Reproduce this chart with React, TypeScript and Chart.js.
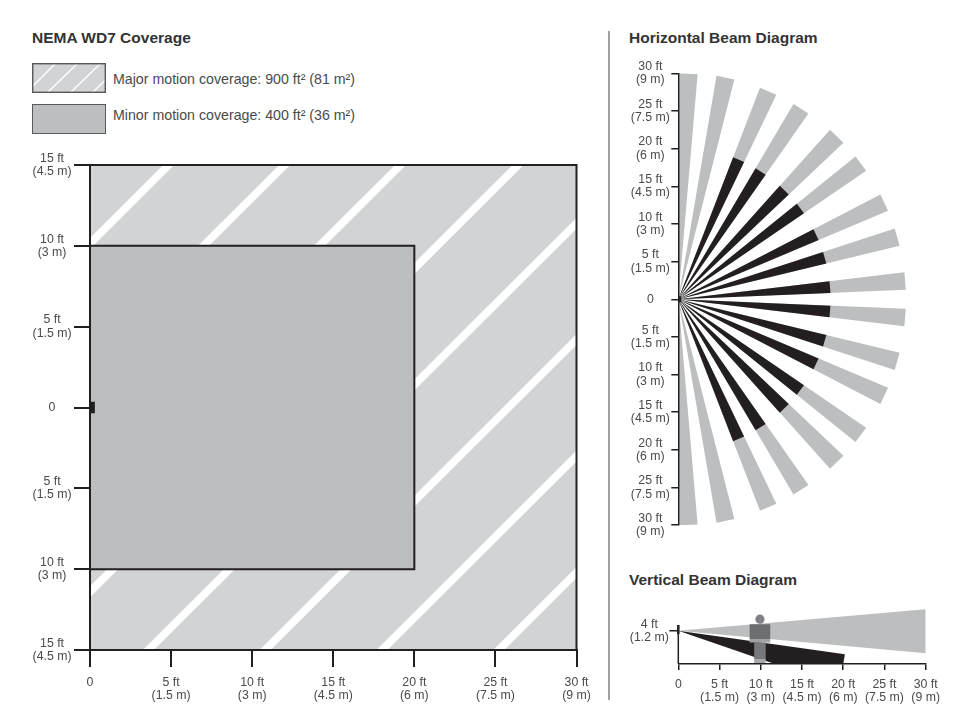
import React, { useEffect, useRef } from "react";
import { Chart, registerables } from "chart.js";

Chart.register(...registerables);

// ---------- data (all in feet, angles in degrees) ----------
const COVERAGE_X_TICKS = [0, 5, 10, 15, 20, 25, 30];
const COVERAGE_X_LABELS = ["0", ["5 ft", "(1.5 m)"], ["10 ft", "(3 m)"], ["15 ft", "(4.5 m)"], ["20 ft", "(6 m)"], ["25 ft", "(7.5 m)"], ["30 ft", "(9 m)"]];
const COVERAGE_Y_TICKS = [15, 10, 5, 0, -5, -10, -15];
const COVERAGE_Y_LABELS = [["15 ft", "(4.5 m)"], ["10 ft", "(3 m)"], ["5 ft", "(1.5 m)"], "0", ["5 ft", "(1.5 m)"], ["10 ft", "(3 m)"], ["15 ft", "(4.5 m)"]];
const MAJOR_AREA = { xMax: 30, yMax: 15 };
const MINOR_AREA = { xMax: 20, yMax: 10 };
const STRIPE_OFFSETS = [10.15, 3.0, -4.15, -11.4, -18.6, -25.8, -33.0, -40.2];
const COVERAGE_SENSOR = { x0: -0.15, x1: 0.3, y: 0.35 };

const BEAM_Y_TICKS = [30, 25, 20, 15, 10, 5, 0, -5, -10, -15, -20, -25, -30];
const BEAM_Y_LABELS = [["30 ft", "(9 m)"], ["25 ft", "(7.5 m)"], ["20 ft", "(6 m)"], ["15 ft", "(4.5 m)"], ["10 ft", "(3 m)"], ["5 ft", "(1.5 m)"], "0", ["5 ft", "(1.5 m)"], ["10 ft", "(3 m)"], ["15 ft", "(4.5 m)"], ["20 ft", "(6 m)"], ["25 ft", "(7.5 m)"], ["30 ft", "(9 m)"]];
const BEAM_NEAR_ANGLES = [2.4, 13.6, 22.9, 34.4, 43.5, 55, 64.4, 75.7, 85.1];
const BEAM_FAR_ANGLES = [6.8, 18.1, 27.4, 38.9, 48.2, 59.5, 68.9, 80.3, 89.7];
const BEAM_MAJOR_RANGE = [30.2, 30.2, 30.2, 30.2, 30.2, 30.1, 30.1, 30.1, 30.0];
const BEAM_MINOR_RANGE = [20.2, 20.2, 20.2, 20.2, 20.2, 20.2, 20.2, 0, 0];

const VERT_X_TICKS = [0, 5, 10, 15, 20, 25, 30];
const VERT_X_LABELS = ["0", ["5 ft", "(1.5 m)"], ["10 ft", "(3 m)"], ["15 ft", "(4.5 m)"], ["20 ft", "(6 m)"], ["25 ft", "(7.5 m)"], ["30 ft", "(9 m)"]];
const VERT_Y_TICKS = [4];
const VERT_Y_LABELS = [["4 ft", "(1.2 m)"]];
const VERT_MAJOR_BEAM_X = [0, 30, 30, 0];
const VERT_MAJOR_BEAM_Y = [4, 6.6, 1.29, 4];
const VERT_MINOR_BEAM_X = [0, 20.2, 20, 11.7, 0];
const VERT_MINOR_BEAM_Y = [4, 1.17, 0, 0, 4];
const PERSON_HEAD = { x: 9.9, y: 5.4 };
const PERSON_TORSO = { x0: 8.65, x1: 11.15, y0: 3.0, y1: 4.8 };
const PERSON_WAIST = { x0: 8.65, x1: 11.15, y0: 2.6, y1: 3.0 };
const PERSON_LEGS = { x0: 9.2, x1: 10.6, y0: 0.6, y1: 2.6 };
const PERSON_FEET = { x0: 9.2, x1: 10.6, y0: 0.0, y1: 0.6 };
const VERT_AXIS_TOP = 4.7;

// ---------- styles ----------
const INK = "#231f20";
const TEXT = "#4a4a4c";
const MAJOR_GREY = "#d1d3d4";
const MINOR_GREY = "#bcbec0";
const FONT = "'Liberation Sans', Arial, sans-serif";
const tickFont = { family: FONT, size: 12.3, lineHeight: 1.08 };

const rect = (x0: number, x1: number, y0: number, y1: number) => [
  { x: x0, y: y0 }, { x: x1, y: y0 }, { x: x1, y: y1 }, { x: x0, y: y1 }, { x: x0, y: y0 },
];
const polygon = (xs: number[], ys: number[]) => xs.map((x, i) => ({ x, y: ys[i] }));
const rad = (d: number) => (d * Math.PI) / 180;
const wedge = (near: number, far: number, range: number, sign: number) => [
  { x: 0, y: 0 },
  { x: range * Math.cos(rad(near)), y: sign * range * Math.sin(rad(near)) },
  { x: range * Math.cos(rad(far)), y: sign * range * Math.sin(rad(far)) },
  { x: 0, y: 0 },
];

const solid = (data: any[], color: string, extra: any = {}) => ({
  data, showLine: true, fill: "shape", backgroundColor: color, borderColor: color,
  borderWidth: 0, pointRadius: 0, clip: 0, tension: 0, ...extra,
});
// first in the list is painted first
const painted = (list: any[]) => list.map((d, i) => ({ ...d, order: list.length - i }));

const axisBase = (lw: number, tickLength: number, padding: number, size: number, values: number[], labels: any[], horizontal: boolean) => ({
  type: "linear",
  border: { display: true, color: INK, width: lw, z: 2 },
  grid: { drawOnChartArea: false, drawTicks: true, tickLength, tickColor: INK, tickWidth: lw, color: INK, lineWidth: lw },
  ticks: {
    autoSkip: false, maxRotation: 0, minRotation: 0, padding, color: TEXT, font: tickFont,
    crossAlign: horizontal ? "near" : "center",
    callback: (v: number) => labels[values.indexOf(v)],
  },
  afterBuildTicks: (s: any) => { s.ticks = values.map((value) => ({ value })); },
  afterFit: (s: any) => { if (horizontal) s.height = size; else s.width = size; },
});

const baseOptions = (padding: any, scales: any) => ({
  responsive: false, animation: false, events: [],
  layout: { padding, autoPadding: false },
  plugins: { legend: { display: false }, tooltip: { enabled: false }, title: { display: false } },
  scales,
});

const coverageConfig = () => ({
  type: "scatter",
  data: {
    datasets: painted([
      solid(rect(0, MAJOR_AREA.xMax, -MAJOR_AREA.yMax, MAJOR_AREA.yMax), MAJOR_GREY),
      ...STRIPE_OFFSETS.map((c) => ({
        data: [{ x: -60, y: c - 60 }, { x: 90, y: c + 90 }],
        showLine: true, fill: false, borderColor: "#ffffff", borderWidth: 7.8, pointRadius: 0, clip: 0,
      })),
      solid(rect(0, MAJOR_AREA.xMax, -MAJOR_AREA.yMax, MAJOR_AREA.yMax), "rgba(0,0,0,0)", { fill: false, borderColor: INK, borderWidth: 2, clip: false }),
      solid(rect(0, MINOR_AREA.xMax, -MINOR_AREA.yMax, MINOR_AREA.yMax), MINOR_GREY, { borderColor: INK, borderWidth: 2, clip: false }),
      solid(rect(COVERAGE_SENSOR.x0, COVERAGE_SENSOR.x1, -COVERAGE_SENSOR.y, COVERAGE_SENSOR.y), INK, { clip: false }),
    ]),
  },
  options: baseOptions({ top: 25, right: 23.5, bottom: 0, left: 0 }, {
    x: { ...axisBase(2, 17, 9, 70, COVERAGE_X_TICKS, COVERAGE_X_LABELS, true), min: 0, max: 30 },
    y: { ...axisBase(2, 16, 2.5, 90, COVERAGE_Y_TICKS, COVERAGE_Y_LABELS, false), min: -15, max: 15 },
  }),
});

const beamConfig = () => {
  const sides = [1, -1];
  const grey: any[] = [];
  const black: any[] = [];
  sides.forEach((sign) => {
    BEAM_NEAR_ANGLES.forEach((near, i) => {
      grey.push(solid(wedge(near, BEAM_FAR_ANGLES[i], BEAM_MAJOR_RANGE[i], sign), MINOR_GREY));
      if (BEAM_MINOR_RANGE[i] > 0) black.push(solid(wedge(near, BEAM_FAR_ANGLES[i], BEAM_MINOR_RANGE[i], sign), INK));
    });
  });
  return {
    type: "scatter",
    data: {
      datasets: painted([
        ...grey, ...black,
        solid(rect(-0.15, 0.4, -0.4, 0.4), INK, { clip: false }),
      ]),
    },
    options: baseOptions({ top: 23.3, right: 54, bottom: 14.3, left: 0 }, {
      x: { type: "linear", display: false, min: 0, max: 31 },
      y: { ...axisBase(1.5, 7, 1.5, 68.3, BEAM_Y_TICKS, BEAM_Y_LABELS, false), min: -30, max: 30 },
    }),
  };
};

const verticalConfig = () => {
  const y = axisBase(1.5, 9, 0.5, 68.3, VERT_Y_TICKS, VERT_Y_LABELS, false);
  y.border = { ...y.border, display: false };
  return {
    type: "scatter",
    data: {
      datasets: painted([
        solid(polygon(VERT_MAJOR_BEAM_X, VERT_MAJOR_BEAM_Y), MINOR_GREY),
        solid(polygon(VERT_MINOR_BEAM_X, VERT_MINOR_BEAM_Y), INK),
        solid([{ x: 0, y: 0 }, { x: 0, y: VERT_AXIS_TOP }], INK, { fill: false, borderWidth: 1.5, clip: false }),
        solid([{ x: 0, y: 3.6 }, { x: 0, y: VERT_AXIS_TOP }], INK, { fill: false, borderWidth: 2.5, clip: false }),
        solid(rect(PERSON_LEGS.x0, PERSON_LEGS.x1, PERSON_LEGS.y0, PERSON_LEGS.y1), "#77787b"),
        solid(rect(PERSON_FEET.x0, PERSON_FEET.x1, PERSON_FEET.y0, PERSON_FEET.y1), "#a7a9ac"),
        solid(rect(PERSON_WAIST.x0, PERSON_WAIST.x1, PERSON_WAIST.y0, PERSON_WAIST.y1), "#a0a2a4"),
        solid(rect(PERSON_TORSO.x0, PERSON_TORSO.x1, PERSON_TORSO.y0, PERSON_TORSO.y1), "#6d6e71"),
        { data: [PERSON_HEAD], showLine: false, pointRadius: 4.6, pointBorderWidth: 0, pointBackgroundColor: "#808285", clip: false },
      ]),
    },
    options: baseOptions({ top: 15.9, right: 40.3, bottom: 0, left: 0 }, {
      x: { ...axisBase(1.5, 6, 8, 56, VERT_X_TICKS, VERT_X_LABELS, true), min: 0, max: 30 },
      y: { ...y, min: 0, max: 7 },
    }),
  };
};

function ChartCanvas({ config, left, top, width, height }: any) {
  const ref = useRef<HTMLCanvasElement>(null);
  useEffect(() => {
    const chart = new Chart(ref.current as any, config() as any);
    return () => chart.destroy();
  }, [config]);
  return <canvas ref={ref} width={width} height={height} style={{ position: "absolute", left, top, width, height }} />;
}

const Title = ({ x, y, children }: any) => (
  <div style={{ position: "absolute", left: x, top: y, lineHeight: "20px", fontFamily: FONT, fontWeight: 700, fontSize: 15.5, color: "#333335", whiteSpace: "nowrap" }}>{children}</div>
);
const LegendText = ({ y, children }: any) => (
  <div style={{ position: "absolute", left: 113, top: y, lineHeight: "20px", fontFamily: FONT, fontSize: 14.2, color: TEXT, whiteSpace: "nowrap" }}>{children}</div>
);

export default function App() {
  return (
    <div style={{ position: "absolute", left: 0, top: 0, width: 966, height: 720, overflow: "hidden", background: "#fff" }}>
      <Title x={32} y={28}>NEMA WD7 Coverage</Title>
      <Title x={629} y={28}>Horizontal Beam Diagram</Title>
      <Title x={629} y={570}>Vertical Beam Diagram</Title>

      <svg width={74} height={30} style={{ position: "absolute", left: 32, top: 63 }}>
        <defs><clipPath id="sw"><rect x={0} y={0} width={74} height={30} /></clipPath></defs>
        <rect x={0} y={0} width={74} height={30} fill={MAJOR_GREY} />
        <g clipPath="url(#sw)" stroke="#fff" strokeWidth={1.4}>
          <line x1={0} y1={24} x2={24} y2={0} />
          <line x1={15} y1={30} x2={46} y2={0} />
          <line x1={38} y1={30} x2={69} y2={0} />
          <line x1={60} y1={30} x2={91} y2={0} />
        </g>
        <rect x={0.7} y={0.7} width={72.6} height={28.6} fill="none" stroke="#58595b" strokeWidth={1.4} />
      </svg>
      <LegendText y={69}>Major motion coverage: 900 ft² (81 m²)</LegendText>
      <div style={{ position: "absolute", left: 32, top: 104, width: 74, height: 30, boxSizing: "border-box", background: MINOR_GREY, border: "1.4px solid #58595b" }} />
      <LegendText y={105}>Minor motion coverage: 400 ft² (36 m²)</LegendText>

      <div style={{ position: "absolute", left: 608.4, top: 31, width: 2, height: 669, background: "#a0a2a4" }} />

      <ChartCanvas config={coverageConfig} left={0} top={140} width={600} height={580} />
      <ChartCanvas config={beamConfig} left={610} top={50} width={356} height={490} />
      <ChartCanvas config={verticalConfig} left={610} top={590} width={356} height={130} />
    </div>
  );
}
